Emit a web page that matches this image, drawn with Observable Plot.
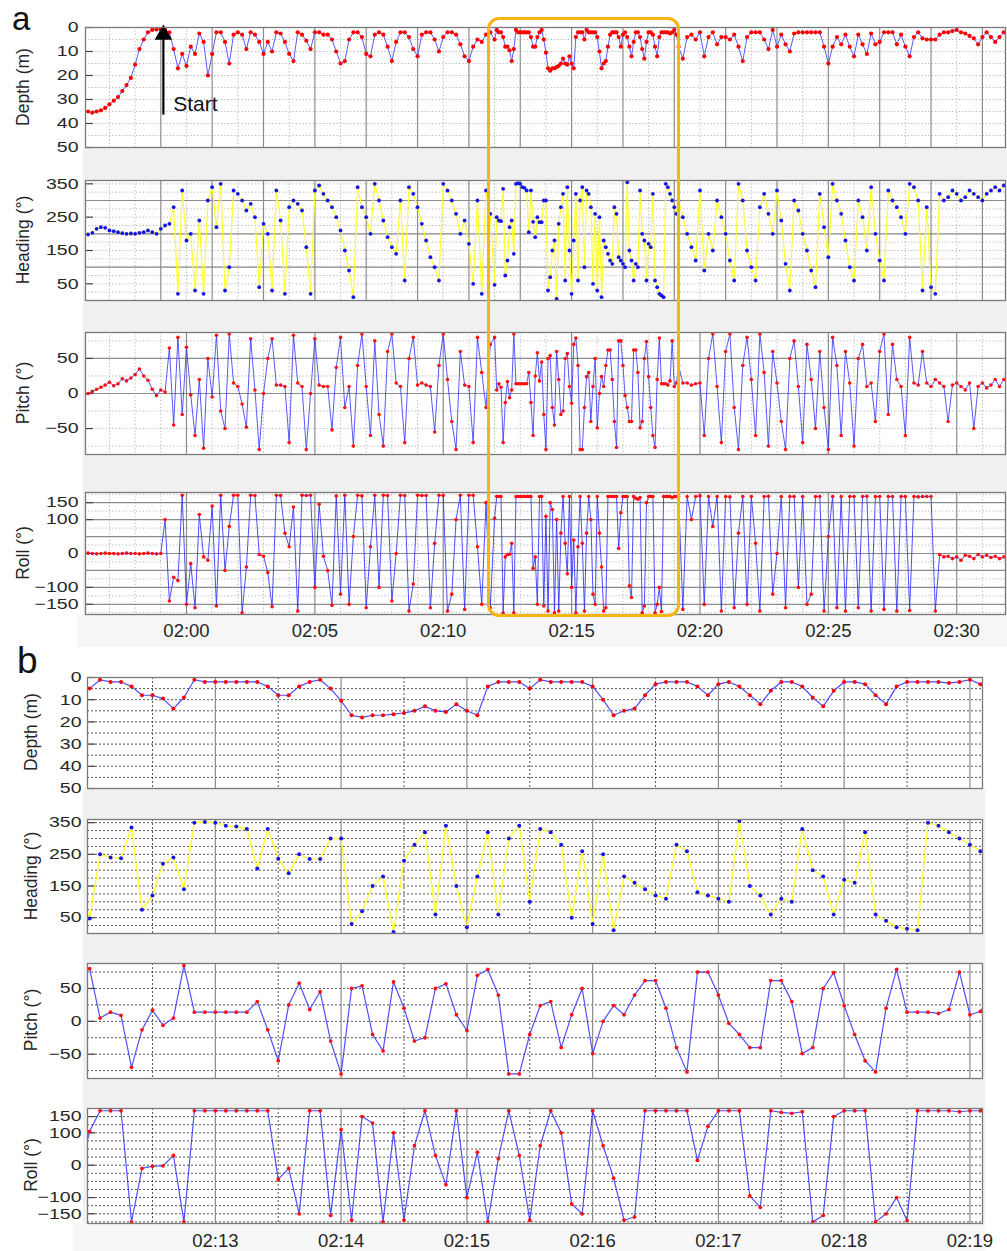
<!DOCTYPE html>
<html><head><meta charset="utf-8">
<script src="https://cdn.jsdelivr.net/npm/d3@7"></script>
<script src="https://cdn.jsdelivr.net/npm/@observablehq/plot@0.6"></script>
<style>
body{margin:0;background:#fff;font-family:"Liberation Sans",Arial,sans-serif;}
#fig{position:relative;width:1007px;height:1251px;overflow:hidden;background:#fff}
.abs{position:absolute}
</style></head><body><div id="fig"></div>
<script>
// ---------- sampling grids (seconds relative to 02:00:00) ----------
const seg1T0 = -240, seg1Dt = 10;   // 01:56:00 .. 02:11:50
const fineT0 = 720,  fineDt = 5;    // 02:12:00 .. 02:19:05
const seg2T0 = 1150, seg2Dt = 10;   // 02:19:10 .. 02:31:50

// ---------- depth (m) ----------
const depthSeg1 = [
 35,35,35.5,35,34.5,33.5,  32,30.5,29,26.5,24,21,  15.5,9,5,2,1,0.8,  0.8,1,2,9,17,11,
 16,8,11,2.5,6,20,  11,2,2,6,15,3,  2,3,9,2,3,6,  11,6,10,2,2.5,6,
 11,14,2,3,5.5,9,  2,2,3,3,5,10,  15,14,5,2,2,4,  11,12,3,2,3,8,
 14,6,2,2,4,9,  12,3,2,2,5,10,  4,2,2,3,7,12,  14,8,5,6,3,2];
const depthFine = [
 5,1,2,2,4,8,8,9.5,14,9,1,2,
 2,2,2,2,2,4,8,8,4,2,1,5,
 10.5,17,18,17,17,16.5,16,15,13,15,15.5,12,
 15,17,4,2,2,2,5,1,2,2,2,2,
 4,10,17,15,14,8,3,2,2,2,4,8,
 3,2,4,8,12,6,2,2,4,9,13,6,
 2,2,3,8,12,4,2,2,2,2,2.5,2,
 1,3];
const depthSeg2 = [
 8,13,4,3,5,
 2,12,4,2,7,4,  4,5,3,8,14,4,  2,2,2,5,9,1,  8,3,7,10,2.5,2,
 2,2,2,2,2,8,  15,8,4,7,3,8,  12,3,7,11,2.5,7,  6,2,2,2,7,3,
 8,12,4,2,4.5,5,  5,5,3,2,2,1.5,  1,2,2.5,3.5,4.5,7,  4,2,4,6,4,2];

// ---------- heading (deg) ----------
const headingSeg1 = [
 210,198,203,215,220,218,  210,208,205,202,200,201,  200,203,205,210,205,200,  215,225,230,280,20,330,
 180,200,30,240,20,300,  340,220,350,30,100,330,  320,300,270,290,250,40,  230,200,30,330,240,20,
 280,300,290,270,160,20,  330,345,320,300,280,250,  210,150,90,10,340,280,  250,200,350,300,240,190,
 160,140,300,60,340,320,  280,230,180,130,100,60,  350,330,300,260,200,240,  170,50,300,20,330,260];
const headingFine = [
 47,250,240,238,335,75,120,220,240,140,350,352,
 350,340,338,330,205,330,236,190,250,235,235,300,
 300,30,70,150,180,5,230,280,320,60,340,150,
 20,180,320,60,300,340,100,330,320,280,50,260,
 30,250,10,180,160,140,120,110,280,260,130,120,
 110,100,355,150,120,60,110,100,330,200,180,60,
 170,160,320,60,40,20,15,10,350,340,320,300,
 280,260];
const headingSeg2 = [
 300,250,200,160,120,
 330,90,200,150,300,250,  200,120,60,350,300,150,  100,60,280,320,260,200,  330,240,110,30,300,270,
 200,150,90,40,320,220,  130,350,300,260,180,100,  60,300,250,150,340,200,  120,60,330,300,280,250,
 200,350,340,300,30,280,  40,20,320,300,310,330,  320,300,310,330,320,310,  300,320,330,340,330,345];

// ---------- pitch (deg) ----------
const pitchSeg1 = [
 -3,0,3,6,9,12,  16,11,14,21,18,22,  27,35,25,19,6,-3,  5,2,65,-45,80,-30,
 66,-2,-60,20,-78,50,  -5,83,-25,-50,85,15,  10,-15,-48,78,5,-80,  0,50,78,12,12,10,
 -70,83,15,10,-80,0,  78,12,10,10,-52,37,  80,-20,10,-75,40,85,  10,-60,75,-30,-75,60,
 85,15,10,-70,50,80,  12,15,12,10,-55,40,  85,20,-40,-80,60,12,  10,-70,80,30,-20,70];
const pitchFine = [
 80,5,14,9,-70,-13,17,-6,5,85,14,14,
 14,14,14,14,30,-13,-60,25,58,18,45,-30,
 -80,50,54,-20,-45,60,20,-30,-25,50,57,10,
 -14,70,79,40,-80,-80,-20,24,30,-40,10,50,
 -49,0,24,10,40,62,62,20,-40,-77,75,75,
 40,-3,-20,-40,-40,62,62,30,-49,-40,50,74,
 24,-20,-60,-77,20,79,14,14,14,12,18,75,
 10,15];
const pitchSeg2 = [
 40,15,15,12,14,
 15,-60,50,85,10,-70,  60,85,-20,-80,40,80,  20,-60,85,30,-75,60,  15,-40,-80,50,75,10,
 -70,70,20,-50,60,-20,  -80,80,40,-60,60,15,  -75,50,70,10,15,-40,  60,85,-30,70,20,10,
 -60,80,15,12,60,15,  10,20,15,10,-40,12,  15,10,5,15,-50,10,  15,8,12,20,10,20];

// ---------- roll (deg) ----------
const rollSeg1 = [
 0,1,0,-1,0,1,  0,0,-1,0,1,0,  0,-1,0,1,0,-1,  0,100,-140,-70,-80,172,
 -150,-30,-160,115,-10,-20,  140,-155,172,-50,80,172,  172,-175,-40,172,171,-3,  -8,-56,-157,172,171,60,
 20,137,-170,172,171,172,  -100,145,-8,-50,-153,170,  -120,172,-150,50,172,170,  -160,20,172,-100,172,171,
 -140,0,172,171,-170,-90,  172,171,171,-160,30,172,  171,-170,-120,100,172,-165,  172,172,20,-150,150,-160];
const rollFine = [
 104,168,168,168,-176,-10,-3,-2,30,-175,168,168,
 168,168,168,168,168,168,-44,-10,-150,168,168,-155,
 110,-170,150,130,-175,100,-170,60,168,30,-60,168,
 -100,40,-175,20,168,30,-170,60,168,100,-120,-150,
 168,60,-40,-170,-160,168,168,168,168,168,15,120,
 168,168,168,-95,-130,168,163,160,165,-175,-155,150,
 168,168,168,-175,-150,-100,-171,168,168,168,168,165,
 168,168];
const rollSeg2 = [
 168,-165,168,100,168,
 170,-150,168,80,168,-170,  168,167,-160,60,168,-150,  168,30,-170,168,169,-120,  0,168,-160,168,168,-100,
 168,-150,-120,168,168,-170,  50,168,-160,168,-170,168,  168,-160,168,169,-170,168,  168,-165,168,168,-170,168,
 168,-168,168,167,168,168,  168,-170,-3,-10,-8,-15,  -10,-20,-5,-8,-15,-3,  -10,-5,-12,-8,-15,-10];

// ---------- axes / ticks / annotations ----------
const aTickLabels = ["02:00","02:05","02:10","02:15","02:20","02:25","02:30"];
const bTickLabels = ["02:13","02:14","02:15","02:16","02:17","02:18","02:19"];
const bMinuteLines = ["02:13","02:14","02:15","02:16","02:17","02:18","02:19"];
const bHalfLines = ["02:12:30","02:13:30","02:14:30","02:15:30","02:16:30","02:17:30","02:18:30"];
const aOddMinutes = ["01:59","02:01","02:03","02:05","02:07","02:09","02:11","02:13","02:15","02:17","02:19","02:21","02:23","02:25","02:27","02:29","02:31"];
const depthTicks = [0,10,20,30,40,50];
const headingTicks = [50,150,250,350];
const pitchTicks = [-50,0,50];
const rollTicks = [-150,-100,0,100,150];
const startArrow = [{t: -54, d1: 36.5, d2: 5, dHead: 3}];
const startLabel = [{t: -31, d: 32, label: "Start"}];
const zoomWindow = [703, 1155]; // orange box, seconds after 02:00
const aRange = [-236, 1914], bRange = [719, 1146];

// ---------- helpers ----------
const T0 = Date.UTC(2020,0,1,2,0,0);
const toDate = s => new Date(T0 + s*1000);
const hm = str => { const [h,m,s=0] = str.split(":").map(Number); return new Date(Date.UTC(2020,0,1,h,m,s)); };
function assemble(s1, f, s2) {
  const out = [];
  s1.forEach((v,i) => out.push({t: toDate(seg1T0 + i*seg1Dt), v}));
  f.forEach((v,i) => out.push({t: toDate(fineT0 + i*fineDt), v}));
  s2.forEach((v,i) => out.push({t: toDate(seg2T0 + i*seg2Dt), v}));
  return out;
}
const depth = assemble(depthSeg1, depthFine, depthSeg2);
const heading = assemble(headingSeg1, headingFine, headingSeg2);
const pitch = assemble(pitchSeg1, pitchFine, pitchSeg2);
const roll = assemble(rollSeg1, rollFine, rollSeg2);
const inB = d => d.t >= toDate(710) && d.t <= toDate(1150);

const fig = document.getElementById("fig");
function box(css){ const d=document.createElement("div"); d.className="abs"; d.style.cssText=css; fig.appendChild(d); return d; }
function label(text, css){ const d=box(css); d.textContent=text; return d; }

// backgrounds
box("left:83px;top:147px;width:924px;height:467px;background:#f0f0f0");
box("left:77px;top:614px;width:930px;height:33px;background:#f6f6f6");
box("left:83px;top:788px;width:902px;height:435px;background:#f0f0f0");
box("left:73px;top:1223px;width:912px;height:28px;background:#f7f7f7");

function panel(cfg) {
  const mt = 4, mb = cfg.xTicks ? 44 : 4;
  const dark = cfg.dark;
  const gcol = dark ? "#3a3a3a" : "#b4b4b4";
  const dash = dark ? "2,2" : "1.2,2.2";
  const solidX = cfg.solidX || [];
  const gridX = cfg.gridX.filter(m => !solidX.some(s => +s === +m));
  const marks = [
    Plot.frame({fill: "white", stroke: "none"}),
    Plot.ruleY(cfg.gridY, {stroke: gcol, strokeDasharray: dash, strokeWidth: 1, strokeOpacity: dark ? 0.85 : 1}),
    Plot.ruleX(gridX, {stroke: gcol, strokeDasharray: dash, strokeWidth: 1, strokeOpacity: dark ? 0.85 : 1}),
    Plot.ruleY(cfg.solidY || [], {stroke: "#8c8c8c", strokeWidth: 1.2}),
    Plot.ruleX(solidX, {stroke: "#8c8c8c", strokeWidth: 1.2}),
    Plot.axisY({ticks: cfg.yTicks, tickSize: -8, tickFormat: () => "", stroke: "#444", strokeWidth: 1.2, label: null}),
    Plot.line(cfg.data, {x: "t", y: "v", stroke: cfg.lineColor, strokeWidth: cfg.lineW, strokeOpacity: cfg.lineOp ?? 1, clip: true}),
    Plot.dot(cfg.data, {x: "t", y: "v", r: cfg.dotR, fill: cfg.dotColor, stroke: "none", clip: true}),
    ...(cfg.extra || []),
    Plot.frame({stroke: "#7a7a7a", strokeWidth: 1.3}),
    Plot.axisY({ticks: cfg.yTicks, tickSize: 0, tickPadding: cfg.tickPad, fontSize: 15, label: null})
  ];
  if (cfg.xTicks) marks.push(Plot.axisX({ticks: cfg.xTicks, tickFormat: d3.utcFormat("%H:%M"), tickSize: 0, tickPadding: cfg.xPad, fontSize: 18.5, label: null}));
  const xOpt = {type: "utc", domain: cfg.xDomain};
  if (!cfg.xTicks) xOpt.axis = null;
  const svg = Plot.plot({
    width: 1007, height: cfg.h + mt + mb,
    marginTop: mt, marginBottom: mb, marginLeft: cfg.left, marginRight: 1007 - cfg.right,
    x: xOpt,
    y: {domain: cfg.yDomain, reverse: !!cfg.reverse},
    style: {background: "transparent", fontFamily: "'Liberation Sans', Arial, sans-serif", color: "#262626", overflow: "visible"},
    marks
  });
  const wrap = box(`left:0;top:${cfg.top - mt}px;width:1007px`);
  wrap.appendChild(svg);
  svg.querySelectorAll('g[aria-label="y-axis tick label"] text').forEach(t => {
    if (!t.textContent) return;
    const L = t.getComputedTextLength();
    t.setAttribute("textLength", (L*1.3).toFixed(1));
    t.setAttribute("lengthAdjust", "spacingAndGlyphs");
  });
  return svg;
}

const aDom = aRange.map(toDate), bDom = bRange.map(toDate);
const aMinutes = d3.utcMinute.range(aDom[0], aDom[1]);
const aOdd = aOddMinutes.map(hm);
const aFive = aTickLabels.map(hm);
const common = {left: 85, right: 1005, xDomain: aDom, gridX: aMinutes, tickPad: 7};
const commonB = {left: 87, right: 982, xDomain: bDom, gridX: bHalfLines.map(hm), solidX: bMinuteLines.map(hm), tickPad: 6, dark: true};

const arrowData = startArrow.map(d => ({...d, t: toDate(d.t)}));
const depthA = panel({...common, solidX: aOdd, top: 27, h: 120, data: depth, yDomain: [0,50], reverse: true, yTicks: depthTicks,
  gridY: d3.range(0, 51, 5), lineColor: "#5a5aff", lineW: 1, dotColor: "#ff0000", dotR: 2.1,
  extra: [
    Plot.ruleX(arrowData, {x: "t", y1: "d1", y2: "d2", stroke: "#000", strokeWidth: 2.2}),
    Plot.dot(arrowData, {x: "t", y: "dHead", symbol: "triangle", r: 6.5, fill: "#000", stroke: "none"}),
    Plot.text(startLabel.map(d => ({...d, t: toDate(d.t)})), {x: "t", y: "d", text: "label", textAnchor: "start", fontSize: 21, fill: "#111"})
  ]});
panel({...common, solidX: aOdd, top: 180, h: 120, data: heading, yDomain: [0,360], yTicks: headingTicks,
  gridY: d3.range(25, 360, 25), solidY: [100,200,300], lineColor: "#ffff30", lineW: 1.2, dotColor: "#1414e6", dotR: 1.9});
panel({...common, solidX: aFive, top: 332, h: 122, data: pitch, yDomain: [-87,87], yTicks: pitchTicks,
  gridY: [-75,-50,-25,25,75], solidY: [0,50], lineColor: "#2f2fff", lineW: 1, lineOp: 0.8, dotColor: "#ff1010", dotR: 1.8});
panel({...common, solidX: aFive, top: 492, h: 122, data: roll, yDomain: [-180,180], yTicks: rollTicks,
  gridY: [-175,-125,-75,-25,25,75,125,175], solidY: [-150,-100,-50,0,50,100,150], lineColor: "#2f2fff", lineW: 1, lineOp: 0.85, dotColor: "#ff1010", dotR: 1.8,
  xTicks: aFive, xPad: 9});

const depthB = depth.filter(inB), headingB = heading.filter(inB), pitchB = pitch.filter(inB), rollB = roll.filter(inB);
panel({...commonB, top: 677, h: 111, data: depthB, yDomain: [0,50], reverse: true, yTicks: depthTicks,
  gridY: d3.range(5, 50, 5), lineColor: "#4a4aff", lineW: 1.2, dotColor: "#ff0000", dotR: 2});
panel({...commonB, top: 819, h: 114, data: headingB, yDomain: [0,360], yTicks: headingTicks,
  gridY: d3.range(25, 360, 25), lineColor: "#ffff30", lineW: 1.4, dotColor: "#1414e6", dotR: 2});
panel({...commonB, top: 963, h: 115, data: pitchB, yDomain: [-87,88], yTicks: pitchTicks,
  gridY: [-75,-50,-25,0,25,50,75], lineColor: "#3030ff", lineW: 1.2, lineOp: 0.85, dotColor: "#ff1010", dotR: 1.9});
panel({...commonB, top: 1108, h: 115, data: rollB, yDomain: [-180,175], yTicks: rollTicks,
  gridY: [-175,-150,-125,-100,-75,-50,-25,0,25,50,75,100,125,150], lineColor: "#3030ff", lineW: 1.2, lineOp: 0.85, dotColor: "#ff1010", dotR: 1.9,
  xTicks: bTickLabels.map(hm), xPad: 10});

// y labels and panel letters
const yl = (t, cx, cy) => label(t, `left:${cx}px;top:${cy}px;transform:translate(-50%,-50%) rotate(-90deg);font-size:17.5px;white-space:nowrap;color:#262626`);
yl("Depth (m)", 23, 87); yl("Heading (°)", 23, 240); yl("Pitch (°)", 23, 393); yl("Roll (°)", 23, 553);
yl("Depth (m)", 31, 732); yl("Heading (°)", 31, 876); yl("Pitch (°)", 31, 1020); yl("Roll (°)", 31, 1165);
label("a", "left:12px;top:0px;font-size:33px;line-height:38px;color:#111");
label("b", "left:17px;top:640px;font-size:37px;line-height:42px;color:#111");

// orange zoom window, placed with panel a's time scale
const sx = depthA.scale("x");
const x0 = sx.apply(toDate(zoomWindow[0])), x1 = sx.apply(toDate(zoomWindow[1]));
box(`left:${x0}px;top:17px;width:${x1-x0}px;height:600px;border:3.5px solid #f7b514;border-radius:12px;box-sizing:border-box`);
</script></body></html>
